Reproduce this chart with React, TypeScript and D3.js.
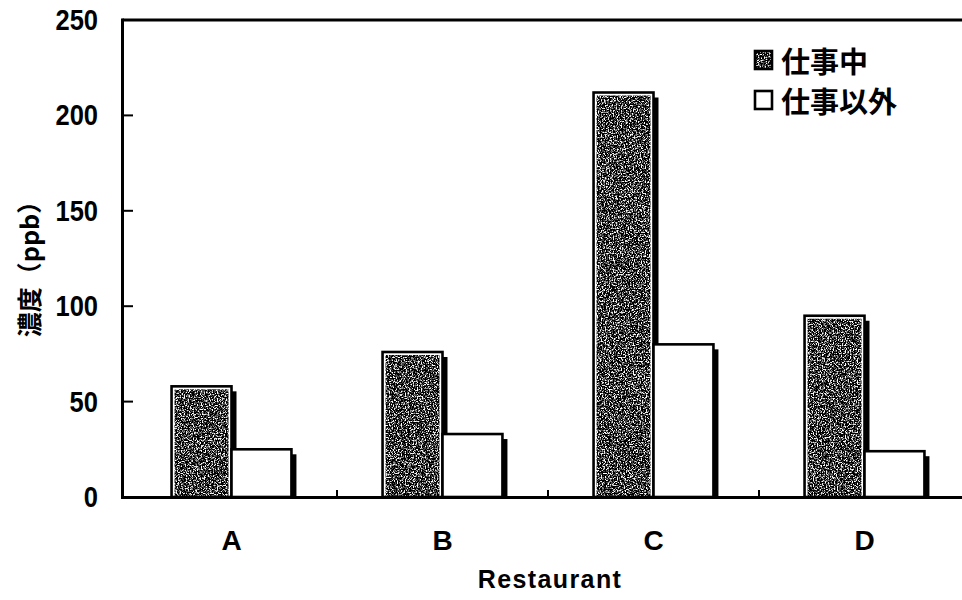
import React from "react";
import * as d3 from "d3";

const categories = ["A", "B", "C", "D"];
const seriesNames = ["仕事中", "仕事以外"];
const workValues = [58, 76, 212, 95];
const offWorkValues = [25, 33, 80, 24];
const yTicks = [0, 50, 100, 150, 200, 250];
const yTitle = "濃度（ppb）";
const xTitle = "Restaurant";

const W = 962;
const H = 600;

export default function App() {
  const y = d3.scaleLinear().domain([0, 250]).range([497, 20]);
  const x = d3.scaleBand<string>().domain(categories).range([126, 970]).paddingInner(0).paddingOuter(0);
  const inner = d3
    .scaleBand<string>()
    .domain(["work", "off"])
    .range([0, x.bandwidth()])
    .paddingInner(0)
    .paddingOuter(0.76);
  const bw = inner.bandwidth();
  const numFont = "'Liberation Sans', Arial, sans-serif";
  const cjkFont = "'Noto Sans CJK JP', 'Noto Sans', sans-serif";
  const shadow = 5;

  const bars: { cat: string; key: string; v: number }[] = [];
  categories.forEach((c, i) => {
    bars.push({ cat: c, key: "work", v: workValues[i] });
    bars.push({ cat: c, key: "off", v: offWorkValues[i] });
  });

  return (
    <svg width={W} height={H} style={{ position: "absolute", left: 0, top: 0, background: "#fff" }}>
      <defs>
        <filter id="speckle" x="0" y="0" width="1" height="1" filterUnits="objectBoundingBox">
          <feTurbulence type="fractalNoise" baseFrequency="0.75" numOctaves="3" seed="4" result="n" />
          <feColorMatrix
            in="n"
            type="matrix"
            values="3.2 0 0 0 -1.38  3.2 0 0 0 -1.38  3.2 0 0 0 -1.38  0 0 0 0 1"
            result="g"
          />
          <feComponentTransfer in="g" result="d">
            <feFuncR type="discrete" tableValues="0 0.06 0.28 0.75 1" />
            <feFuncG type="discrete" tableValues="0 0.06 0.28 0.75 1" />
            <feFuncB type="discrete" tableValues="0 0.06 0.28 0.75 1" />
          </feComponentTransfer>
          <feComposite in="d" in2="SourceGraphic" operator="in" />
        </filter>
      </defs>

      {/* shadows */}
      {bars.map((b, i) => {
        const bx = (x(b.cat) as number) + (inner(b.key) as number);
        const by = y(b.v);
        return (
          <rect
            key={"s" + i}
            x={bx + shadow}
            y={by + shadow}
            width={bw}
            height={y(0) - by - shadow}
            fill="#000"
          />
        );
      })}
      {/* bars */}
      {bars.map((b, i) => {
        const bx = (x(b.cat) as number) + (inner(b.key) as number);
        const by = y(b.v);
        const h = y(0) - by;
        return (
          <g key={"b" + i}>
            {b.key === "work" ? (
              <>
                <rect x={bx} y={by} width={bw} height={h} fill="#fff" />
                <rect
                  x={bx + 3}
                  y={by + 3}
                  width={bw - 6}
                  height={h - 4}
                  fill="#777"
                  filter="url(#speckle)"
                />
              </>
            ) : (
              <rect x={bx} y={by} width={bw} height={h} fill="#fff" />
            )}
            <rect x={bx} y={by} width={bw} height={h} fill="none" stroke="#000" strokeWidth={2.6} />
          </g>
        );
      })}

      {/* axes */}
      <line x1={122.5} x2={962} y1={20} y2={20} stroke="#000" strokeWidth={3} />
      <line x1={122.5} x2={122.5} y1={18.5} y2={498.5} stroke="#000" strokeWidth={3} />
      <line x1={121} x2={962} y1={497.5} y2={497.5} stroke="#000" strokeWidth={3} />
      {yTicks
        .filter((t) => t > 0 && t < 250)
        .map((t) => (
          <line key={"yt" + t} x1={123} x2={133} y1={y(t)} y2={y(t)} stroke="#000" strokeWidth={2} />
        ))}
      {categories.slice(1).map((c) => (
        <line
          key={"xt" + c}
          x1={x(c) as number}
          x2={x(c) as number}
          y1={497}
          y2={490}
          stroke="#000"
          strokeWidth={2}
        />
      ))}

      {/* y tick labels */}
      {yTicks.map((t) => (
        <g key={"yl" + t} transform={`translate(98,${y(t)}) scale(0.88,1)`}>
          <text
            x={0}
            y={0}
            textAnchor="end"
            dominantBaseline="central"
            fontFamily={numFont}
            fontWeight="bold"
            fontSize={29}
            fill="#000"
          >
            {t}
          </text>
        </g>
      ))}

      {/* x labels */}
      {categories.map((c) => (
        <text
          key={"xl" + c}
          x={(x(c) as number) + x.bandwidth() / 2}
          y={550}
          textAnchor="middle"
          fontFamily={numFont}
          fontWeight="bold"
          fontSize={28}
          fill="#000"
        >
          {c}
        </text>
      ))}

      {/* axis titles */}
      <text
        x={550}
        y={588}
        textAnchor="middle"
        fontFamily={numFont}
        fontWeight="bold"
        fontSize={25}
        letterSpacing={1.4}
        fill="#000"
      >
        {xTitle}
      </text>
      <text
        transform="translate(28,263) rotate(-90)"
        textAnchor="middle"
        dominantBaseline="central"
        fontFamily={cjkFont}
        fontWeight="bold"
        fontSize={25}
        fill="#000"
      >
        {yTitle}
      </text>

      {/* legend */}
      {seriesNames.map((s, i) => {
        const cy = 60 + i * 40;
        return (
          <g key={"lg" + i}>
            {i === 0 ? (
              <rect x={755} y={cy - 9} width={17} height={18} fill="#777" filter="url(#speckle)" />
            ) : null}
            <rect
              x={755}
              y={cy - 9}
              width={17}
              height={18}
              fill={i === 0 ? "none" : "#fff"}
              stroke="#000"
              strokeWidth={2.6}
            />
            <text
              x={781}
              y={cy}
              dominantBaseline="central"
              fontFamily={cjkFont}
              fontWeight="bold"
              fontSize={29}
              fill="#000"
            >
              {s}
            </text>
          </g>
        );
      })}
    </svg>
  );
}
